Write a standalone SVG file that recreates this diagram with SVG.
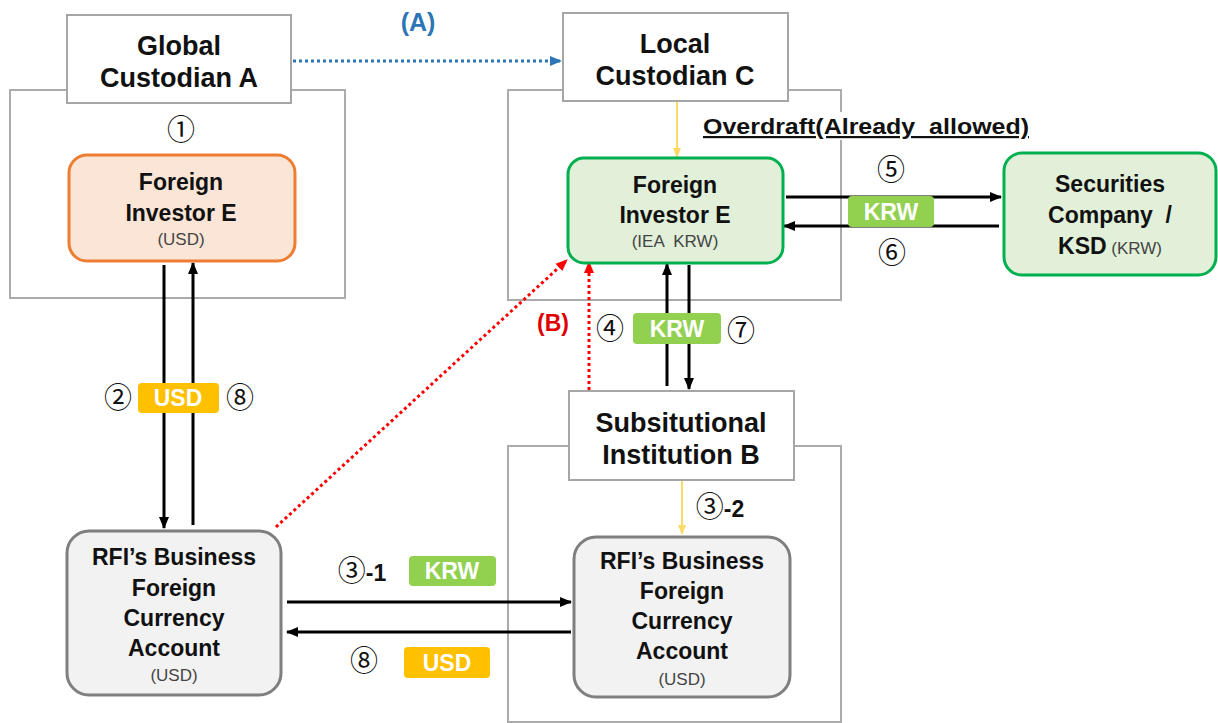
<svg xmlns="http://www.w3.org/2000/svg" width="1218" height="723" viewBox="0 0 1218 723">
<style>
.cont{fill:none;stroke:#ABABAB;stroke-width:2}
.lbl{fill:#fff;stroke:#A6A6A6;stroke-width:2}
.t{font-family:"Liberation Sans",Arial,sans-serif;font-weight:bold;fill:#111;text-anchor:middle}
.big{font-size:27px}
.mid{font-size:23px}
.sm{font-family:"Liberation Sans",Arial,sans-serif;font-size:17px;fill:#444;text-anchor:middle}
.num{font-family:"Noto Sans CJK KR","DejaVu Sans",sans-serif;font-size:28px;fill:#111;text-anchor:middle}
.badge{font-family:"Liberation Sans",Arial,sans-serif;font-weight:bold;font-size:23px;fill:#fff;text-anchor:middle}
.blk{stroke:#000;stroke-width:3;fill:none}
.yel{stroke:#FFD966;stroke-width:2;fill:none}
</style>
<defs>
<marker id="ab" markerUnits="userSpaceOnUse" markerWidth="12" markerHeight="12" viewBox="0 0 12 12" refX="11" refY="6" orient="auto"><path d="M0,1 L12,6 L0,11 Z" fill="#000"/></marker>
<marker id="ay" markerUnits="userSpaceOnUse" markerWidth="10" markerHeight="10" viewBox="0 0 10 10" refX="9" refY="5" orient="auto"><path d="M0,1 L10,5 L0,9 Z" fill="#FFD966"/></marker>
<marker id="abl" markerUnits="userSpaceOnUse" markerWidth="12" markerHeight="12" viewBox="0 0 12 12" refX="11" refY="6" orient="auto"><path d="M0,1 L12,6 L0,11 Z" fill="#2E75B6"/></marker>
<marker id="ar" markerUnits="userSpaceOnUse" markerWidth="12" markerHeight="12" viewBox="0 0 12 12" refX="11" refY="6" orient="auto"><path d="M0,1 L12,6 L0,11 Z" fill="#FF0000"/></marker>
</defs>
<rect width="1218" height="723" fill="#fff"/>

<g id="containers">
<rect class="cont" x="10" y="90" width="335" height="208"/>
<rect class="cont" x="508" y="90" width="333" height="210"/>
<rect class="cont" x="508" y="446" width="333" height="276"/>
</g>

<g id="connectors">
<line x1="293" y1="61" x2="561" y2="61" stroke="#2E75B6" stroke-width="3" stroke-dasharray="3,3" marker-end="url(#abl)"/>
<line x1="164" y1="265" x2="164" y2="528" class="blk" marker-end="url(#ab)"/>
<line x1="193" y1="525" x2="193" y2="263" class="blk" marker-end="url(#ab)"/>
<line x1="677" y1="102" x2="677" y2="157" class="yel" marker-end="url(#ay)"/>
<line x1="786" y1="197" x2="1001" y2="197" class="blk" marker-end="url(#ab)"/>
<line x1="999" y1="226" x2="784" y2="226" class="blk" marker-end="url(#ab)"/>
<line x1="667" y1="386" x2="667" y2="264" class="blk" marker-end="url(#ab)"/>
<line x1="689" y1="265" x2="689" y2="389" class="blk" marker-end="url(#ab)"/>
<line x1="276" y1="527" x2="567" y2="260" stroke="#FF0000" stroke-width="3" stroke-dasharray="3,3" marker-end="url(#ar)"/>
<line x1="589" y1="390" x2="589" y2="262" stroke="#FF0000" stroke-width="3" stroke-dasharray="3,3" marker-end="url(#ar)"/>
<line x1="682" y1="481" x2="682" y2="534" class="yel" marker-end="url(#ay)"/>
<line x1="287" y1="602" x2="571" y2="602" class="blk" marker-end="url(#ab)"/>
<line x1="571" y1="632" x2="287" y2="632" class="blk" marker-end="url(#ab)"/>
</g>

<g id="labels">
<text x="418" y="31" font-family="Liberation Sans,Arial,sans-serif" font-weight="bold" font-size="25" fill="#2E75B6" text-anchor="middle">(A)</text>
<text x="553" y="331" font-family="Liberation Sans,Arial,sans-serif" font-weight="bold" font-size="23" fill="#E00000" text-anchor="middle">(B)</text>
<text class="num" x="181" y="140">①</text>
<text class="num" x="118" y="408">②</text>
<rect x="138" y="383" width="81" height="30" rx="4" fill="#FFC000"/>
<text class="badge" x="178" y="406">USD</text>
<text class="num" x="240" y="408">⑧</text>
<rect x="702" y="112" width="332" height="28" fill="#fff"/>
<text x="866" y="134" font-family="Liberation Sans,Arial,sans-serif" font-weight="bold" font-size="22" fill="#111" text-anchor="middle" text-decoration="underline" textLength="326" lengthAdjust="spacingAndGlyphs" xml:space="preserve">Overdraft(Already  allowed)</text>
<text class="num" x="891" y="180">⑤</text>
<rect x="848" y="196" width="86" height="31" rx="4" fill="#92D050"/>
<text class="badge" x="891" y="220">KRW</text>
<text class="num" x="892" y="263">⑥</text>
<text class="num" x="610" y="339">④</text>
<rect x="633" y="313" width="88" height="31" rx="4" fill="#92D050"/>
<text class="badge" x="677" y="337">KRW</text>
<text class="num" x="741" y="341">⑦</text>
<text x="720" y="517" text-anchor="middle"><tspan font-family="Noto Sans CJK KR,DejaVu Sans,sans-serif" font-size="28" fill="#111">③</tspan><tspan font-family="Liberation Sans,Arial,sans-serif" font-size="23" font-weight="bold" fill="#111">-2</tspan></text>
<text x="362" y="581" text-anchor="middle"><tspan font-family="Noto Sans CJK KR,DejaVu Sans,sans-serif" font-size="28" fill="#111">③</tspan><tspan font-family="Liberation Sans,Arial,sans-serif" font-size="23" font-weight="bold" fill="#111">-1</tspan></text>
<rect x="409" y="556" width="87" height="30" rx="4" fill="#92D050"/>
<text class="badge" x="452" y="579">KRW</text>
<text class="num" x="364" y="671">⑧</text>
<rect x="404" y="647" width="86" height="31" rx="4" fill="#FFC000"/>
<text class="badge" x="447" y="671">USD</text>
</g>

<g id="global-custodian-a">
<rect class="lbl" x="67" y="15" width="224" height="88"/>
<text class="t big" x="179" y="55">Global</text>
<text class="t big" x="179" y="87">Custodian A</text>
</g>

<g id="local-custodian-c">
<rect class="lbl" x="563" y="13" width="225" height="88"/>
<text class="t big" x="675" y="53">Local</text>
<text class="t big" x="675" y="85">Custodian C</text>
</g>

<g id="substitutional-institution-b">
<rect class="lbl" x="569" y="391" width="225" height="89"/>
<text class="t big" x="681" y="432">Subsitutional</text>
<text class="t big" x="681" y="464">Institution B</text>
</g>

<g id="foreign-investor-usd">
<rect x="69" y="155" width="226" height="106" rx="18" fill="#FBE5D6" stroke="#ED7D31" stroke-width="3"/>
<text class="t mid" x="181" y="190">Foreign</text>
<text class="t mid" x="181" y="221">Investor E</text>
<text class="sm" x="181" y="245">(USD)</text>
</g>

<g id="foreign-investor-krw">
<rect x="568" y="158" width="215" height="105" rx="16" fill="#E2F0D9" stroke="#00B050" stroke-width="3"/>
<text class="t mid" x="675" y="193">Foreign</text>
<text class="t mid" x="675" y="223">Investor E</text>
<text class="sm" x="675" y="247" xml:space="preserve">(IEA  KRW)</text>
</g>

<g id="securities-company">
<rect x="1004" y="153" width="212" height="122" rx="18" fill="#E2F0D9" stroke="#00B050" stroke-width="3"/>
<text class="t mid" x="1110" y="192">Securities</text>
<text class="t mid" x="1110" y="223" xml:space="preserve">Company  /</text>
<text x="1110" y="254" text-anchor="middle" font-family="Liberation Sans,Arial,sans-serif"><tspan font-weight="bold" font-size="23" fill="#111">KSD</tspan><tspan font-size="17" fill="#444"> (KRW)</tspan></text>
</g>

<g id="rfi-account-left">
<rect x="67" y="531" width="214" height="164" rx="22" fill="#F2F2F2" stroke="#7F7F7F" stroke-width="3"/>
<text class="t mid" x="174" y="565">RFI’s Business</text>
<text class="t mid" x="174" y="596">Foreign</text>
<text class="t mid" x="174" y="626">Currency</text>
<text class="t mid" x="174" y="656">Account</text>
<text class="sm" x="174" y="681">(USD)</text>
</g>

<g id="rfi-account-right">
<rect x="574" y="537" width="216" height="160" rx="22" fill="#F2F2F2" stroke="#7F7F7F" stroke-width="3"/>
<text class="t mid" x="682" y="569">RFI’s Business</text>
<text class="t mid" x="682" y="599">Foreign</text>
<text class="t mid" x="682" y="629">Currency</text>
<text class="t mid" x="682" y="659">Account</text>
<text class="sm" x="682" y="685">(USD)</text>
</g>
</svg>
